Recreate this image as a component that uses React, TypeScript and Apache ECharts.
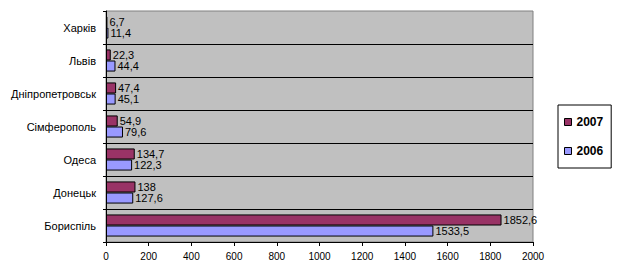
import React, { useEffect, useRef } from "react";
import * as echarts from "echarts";

const categories = ["Бориспіль", "Донецьк", "Одеса", "Сімферополь", "Дніпропетровськ", "Львів", "Харків"];
const values2007 = [1852.6, 138, 134.7, 54.9, 47.4, 22.3, 6.7];
const values2006 = [1533.5, 127.6, 122.3, 79.6, 45.1, 44.4, 11.4];
const xTicks = { min: 0, max: 2000, interval: 200 };

const fmt = (v: number) => String(v).replace(".", ",");

export default function App() {
  const ref = useRef<HTMLDivElement>(null);
  useEffect(() => {
    if (!ref.current) return;
    const chart = echarts.init(ref.current, null, { renderer: "svg" });
    const font = "Arial, 'Liberation Sans', sans-serif";
    const label = {
      show: true,
      position: "right" as const,
      distance: 2,
      color: "#000",
      fontSize: 11,
      fontFamily: font,
      formatter: (p: any) => fmt(p.value),
    };
    chart.setOption({
      animation: false,
      backgroundColor: "#fff",
      grid: {
        left: 106,
        top: 11,
        width: 427,
        height: 231,
        show: true,
        backgroundColor: "#C0C0C0",
        borderColor: "#808080",
        borderWidth: 1,
      },
      legend: {
        orient: "vertical",
        left: 558,
        top: 105,
        data: ["2007", "2006"],
        backgroundColor: "#fff",
        borderColor: "#000",
        borderWidth: 1,
        padding: [11, 8, 11, 6],
        itemGap: 17,
        itemWidth: 7,
        itemHeight: 7,
        icon: "rect",
        itemStyle: { borderColor: "#000", borderWidth: 1 },
        textStyle: { fontSize: 12, fontWeight: "bold", color: "#000", fontFamily: font },
      },
      xAxis: {
        type: "value",
        min: xTicks.min,
        max: xTicks.max,
        interval: xTicks.interval,
        axisLine: { show: true, lineStyle: { color: "#000", width: 1 } },
        axisTick: { show: true, length: 4, lineStyle: { color: "#000" } },
        axisLabel: {
          color: "#000",
          fontSize: 10,
          fontFamily: font,
          margin: 9,
          formatter: (v: number) => String(v),
        },
        splitLine: { show: false },
      },
      yAxis: {
        type: "category",
        data: categories,
        axisLine: { show: true, lineStyle: { color: "#000", width: 1 } },
        axisTick: { show: true, length: 3, lineStyle: { color: "#000" } },
        axisLabel: { color: "#000", fontSize: 11, fontFamily: font, margin: 10 },
        splitLine: { show: true, showMaxLine: false, lineStyle: { color: "#000", width: 1 } },
      },
      series: [
        {
          name: "2007",
          type: "bar",
          data: values2007,
          barGap: "0%",
          barCategoryGap: "33%",
          itemStyle: { color: "#993366", borderColor: "#000", borderWidth: 1 },
          label,
        },
        {
          name: "2006",
          type: "bar",
          data: values2006,
          itemStyle: { color: "#9999FF", borderColor: "#000", borderWidth: 1 },
          label,
        },
      ],
    });
    return () => chart.dispose();
  }, []);
  return (
    <div
      ref={ref}
      style={{ position: "absolute", left: 0, top: 0, width: 620, height: 272 }}
    />
  );
}
